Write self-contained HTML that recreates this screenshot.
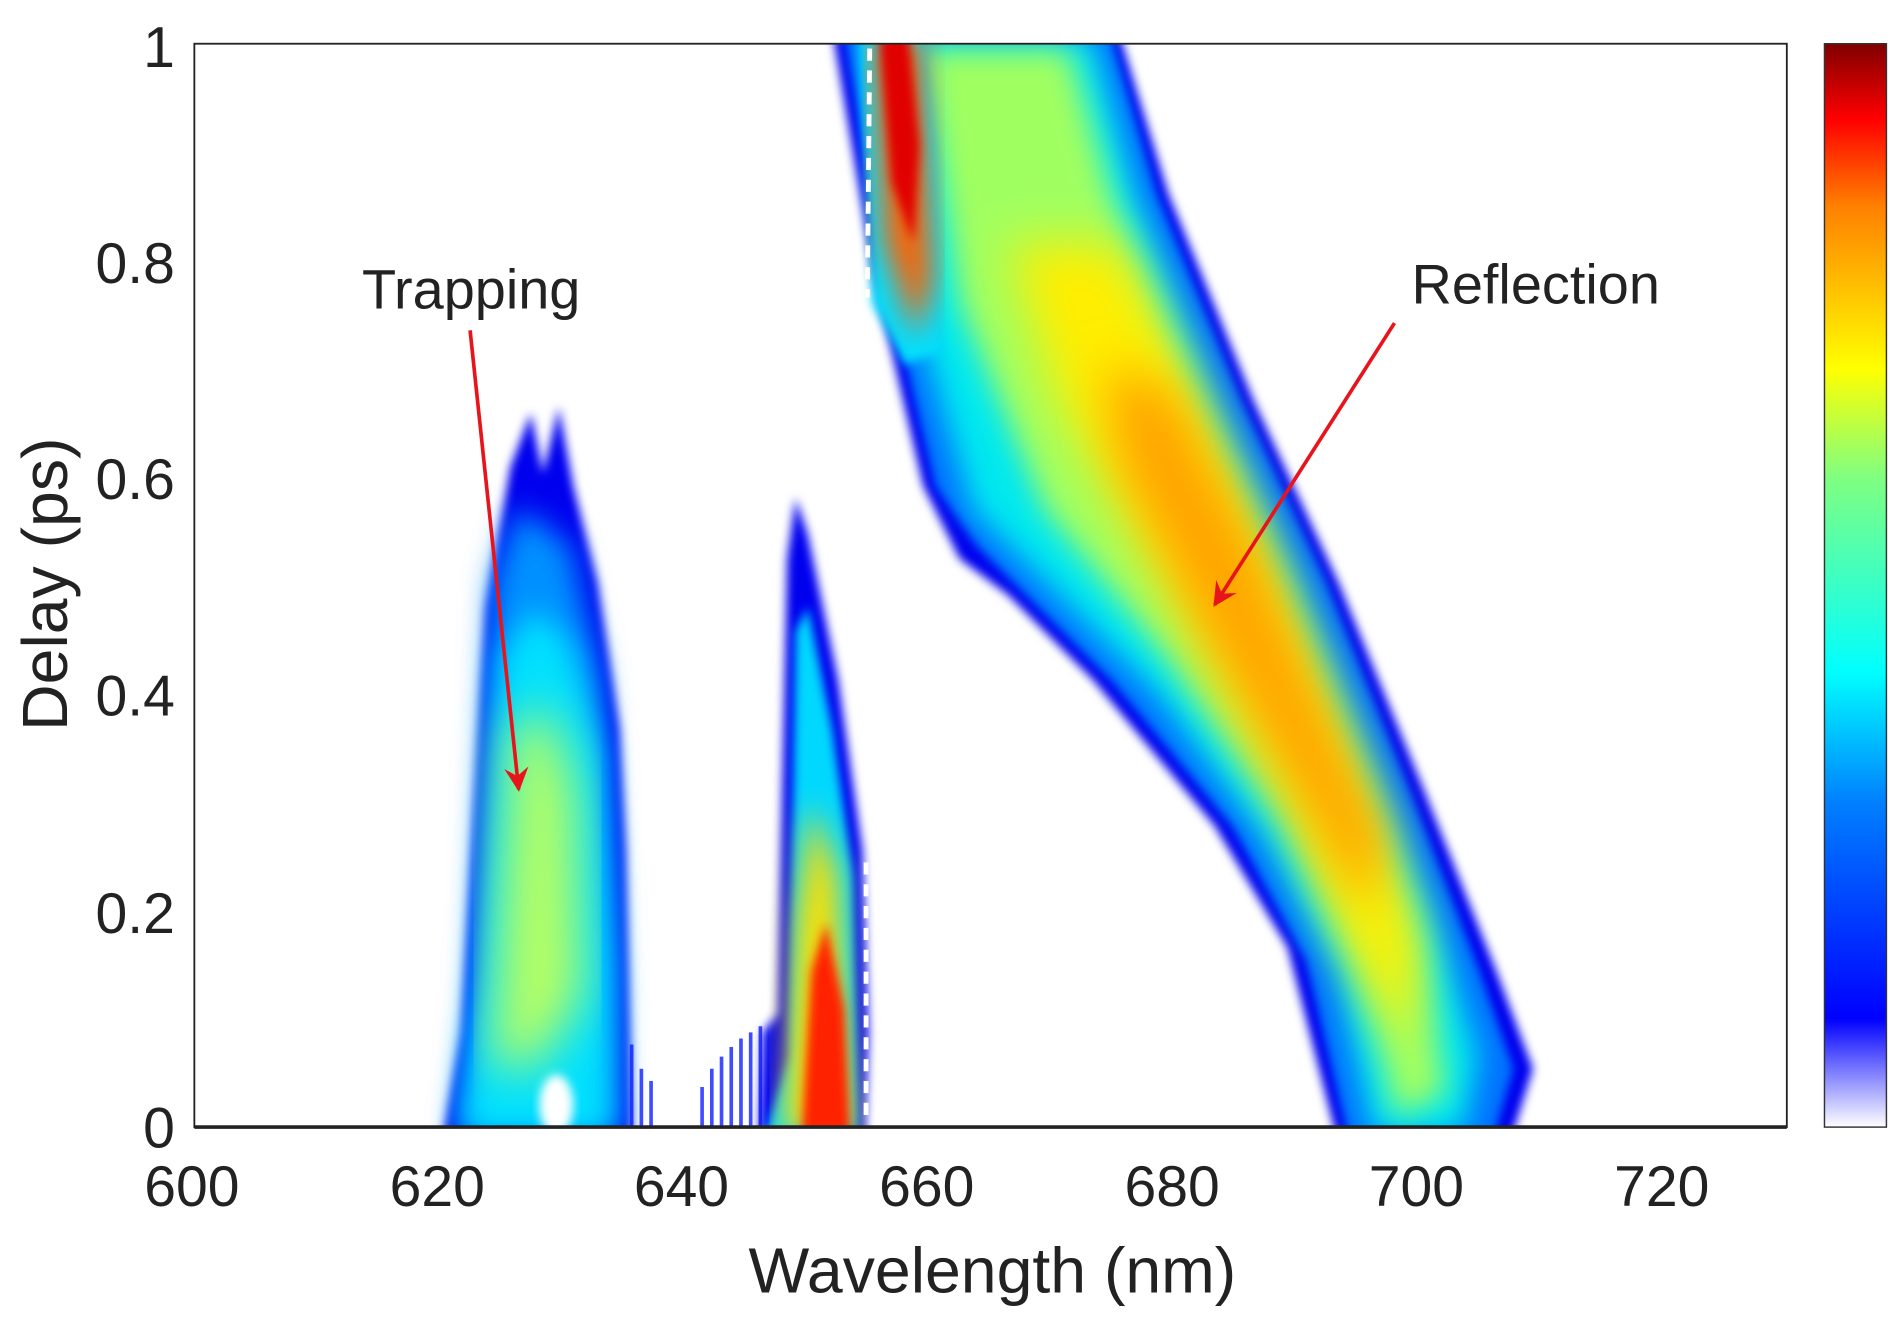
<!DOCTYPE html>
<html><head><meta charset="utf-8"><style>
html,body{margin:0;padding:0;background:#fff;}
svg{display:block;}
text{font-family:"Liberation Sans",Arial,sans-serif;fill:#222;}
</style></head><body>
<svg width="1901" height="1319" viewBox="0 0 1565 1086" preserveAspectRatio="none" xmlns="http://www.w3.org/2000/svg">
<defs>
<filter id="b1" x="-20%" y="-20%" width="140%" height="140%"><feGaussianBlur stdDeviation="4"/></filter>
<filter id="b2" x="-20%" y="-20%" width="140%" height="140%"><feGaussianBlur stdDeviation="12"/></filter>
<filter id="b3" x="-20%" y="-20%" width="140%" height="140%"><feGaussianBlur stdDeviation="20"/></filter>
<clipPath id="cp"><rect x="160" y="36" width="1311" height="892"/></clipPath>
<linearGradient id="jet" x1="0" y1="1" x2="0" y2="0">
<stop offset="0" stop-color="#fff"/><stop offset="0.1" stop-color="#0000ff"/>
<stop offset="0.3" stop-color="#0080ff"/><stop offset="0.42" stop-color="#00ffff"/>
<stop offset="0.6" stop-color="#80ff80"/><stop offset="0.7" stop-color="#ffff00"/>
<stop offset="0.85" stop-color="#ff8000"/><stop offset="0.93" stop-color="#ff0000"/>
<stop offset="1" stop-color="#800000"/></linearGradient>
<marker id="ah" markerWidth="22" markerHeight="20" refX="18" refY="10" orient="auto" markerUnits="userSpaceOnUse"><path d="M0,0 L20,10 L0,20 L7,10z" fill="#e8141c"/></marker>
</defs>
<g clip-path="url(#cp)">
<path filter="url(#b1)" fill="#0000ee" d="M686,30 L720,230 L760,400 L790,460 L830,490 L900,560 L1000,680 L1060,780 L1100,935 L1245,935 L1262,880 L1232,800 L1172,650 L1102,480 L1032,330 L962,160 L922,30Z"/>
<path filter="url(#b1)" fill="#0070ff" d="M696,30 L730,230 L770,400 L805,450 L855,500 L915,560 L1015,680 L1075,790 L1110,935 L1230,935 L1246,880 L1218,800 L1160,650 L1092,480 L1022,330 L952,160 L914,30Z"/>
<path filter="url(#b2)" fill="#00e8f0" d="M712,30 L750,250 L800,420 L880,500 L950,570 L1040,690 L1100,800 L1130,935 L1205,935 L1218,870 L1190,780 L1135,640 L1070,480 L1000,330 L935,160 L900,30Z"/>
<path filter="url(#b2)" fill="#a0ff60" d="M760,40 L790,250 L860,420 L960,540 L1060,680 L1120,800 L1150,920 L1190,900 L1170,780 L1110,630 L1040,460 L975,320 L915,160 L880,40Z"/>
<path filter="url(#b3)" fill="#ffee00" d="M830,200 L870,330 L960,480 L1060,650 L1120,800 L1160,860 L1165,760 L1110,620 L1040,450 L975,300 L920,200Z"/>
<path filter="url(#b3)" fill="#ffa400" d="M910,300 L920,380 L990,520 L1070,660 L1125,750 L1140,690 L1090,580 L1030,440 L965,320Z"/>
<path filter="url(#b1)" fill="#00e0ff" d="M708,30 L718,250 L745,300 L775,290 L770,120 L760,30Z"/>
<path filter="url(#b2)" fill="#ff6000" d="M720,30 L728,200 L755,280 L768,230 L758,30Z"/>
<path filter="url(#b1)" fill="#e00000" d="M724,30 L734,150 L752,200 L757,120 L748,30Z"/>
<path fill="none" stroke="#fff" stroke-width="4" stroke-dasharray="10,8" d="M716,40 L714,245"/>
<path filter="url(#b1)" fill="#0000ee" d="M365,935 L380,850 L400,500 L420,385 L437,340 L447,390 L460,335 L472,400 L492,480 L510,600 L515,700 L520,935Z"/>
<path filter="url(#b2)" fill="#0090ff" d="M375,935 L390,820 L405,480 L425,420 L445,430 L470,450 L495,560 L508,800 L510,935Z"/>
<path filter="url(#b2)" fill="#00e0ff" d="M380,935 L395,800 L412,540 L440,500 L470,530 L495,620 L503,800 L503,935Z"/>
<path filter="url(#b3)" fill="#b8ff60" d="M405,880 L420,600 L450,580 L475,650 L480,820 L440,880Z"/>
<ellipse cx="458" cy="910" rx="14" ry="25" fill="#fff" filter="url(#b1)"/>
<g stroke="#1020ff" stroke-width="3" opacity="0.8">
<line x1="520" y1="928" x2="520" y2="860"/><line x1="528" y1="928" x2="528" y2="880"/><line x1="536" y1="928" x2="536" y2="890"/>
<line x1="578" y1="928" x2="578" y2="895"/><line x1="586" y1="928" x2="586" y2="880"/><line x1="594" y1="928" x2="594" y2="870"/>
<line x1="602" y1="928" x2="602" y2="862"/><line x1="610" y1="928" x2="610" y2="855"/><line x1="618" y1="928" x2="618" y2="850"/>
<line x1="626" y1="928" x2="626" y2="845"/></g>
<path filter="url(#b1)" fill="#0000ee" d="M625,935 L628,850 L640,835 L648,460 L655,410 L665,440 L690,560 L710,700 L715,850 L712,935Z"/>
<path filter="url(#b1)" fill="#00d8ff" d="M630,935 L650,870 L655,520 L665,500 L685,600 L702,720 L706,935Z"/>
<path filter="url(#b2)" fill="#ffe000" d="M645,935 L655,760 L668,660 L690,720 L702,935Z"/>
<path filter="url(#b1)" fill="#ff2000" d="M660,935 L668,800 L680,760 L695,830 L700,935Z"/>
<path fill="none" stroke="#fff" stroke-width="4" stroke-dasharray="10,8" d="M713,710 L713,920"/>
</g>
<rect x="160" y="36" width="1311" height="892" fill="none" stroke="#222" stroke-width="1.5"/>
<line x1="160" y1="928" x2="1471" y2="928" stroke="#222" stroke-width="3"/>
<g font-size="47" text-anchor="middle">
<text x="158" y="993">600</text><text x="360" y="993">620</text><text x="561" y="993">640</text>
<text x="763" y="993">660</text><text x="965" y="993">680</text><text x="1166" y="993">700</text><text x="1368" y="993">720</text>
</g>
<g font-size="47" text-anchor="end">
<text x="144" y="945">0</text><text x="144" y="768">0.2</text><text x="144" y="589">0.4</text>
<text x="144" y="411">0.6</text><text x="144" y="233">0.8</text><text x="144" y="55">1</text>
</g>
<text x="817" y="1064" font-size="53" text-anchor="middle">Wavelength (nm)</text>
<text transform="translate(55,481) rotate(-90)" font-size="53" text-anchor="middle">Delay (ps)</text>
<text x="298" y="254" font-size="46">Trapping</text>
<text x="1162" y="250" font-size="46">Reflection</text>
<line x1="387" y1="272" x2="427" y2="650" stroke="#e8141c" stroke-width="3" marker-end="url(#ah)"/>
<line x1="1148" y1="266" x2="1000" y2="498" stroke="#e8141c" stroke-width="3" marker-end="url(#ah)"/>
<rect x="1502" y="36" width="51" height="892" fill="url(#jet)" stroke="#333" stroke-width="1.2"/>
</svg>
</body></html>
